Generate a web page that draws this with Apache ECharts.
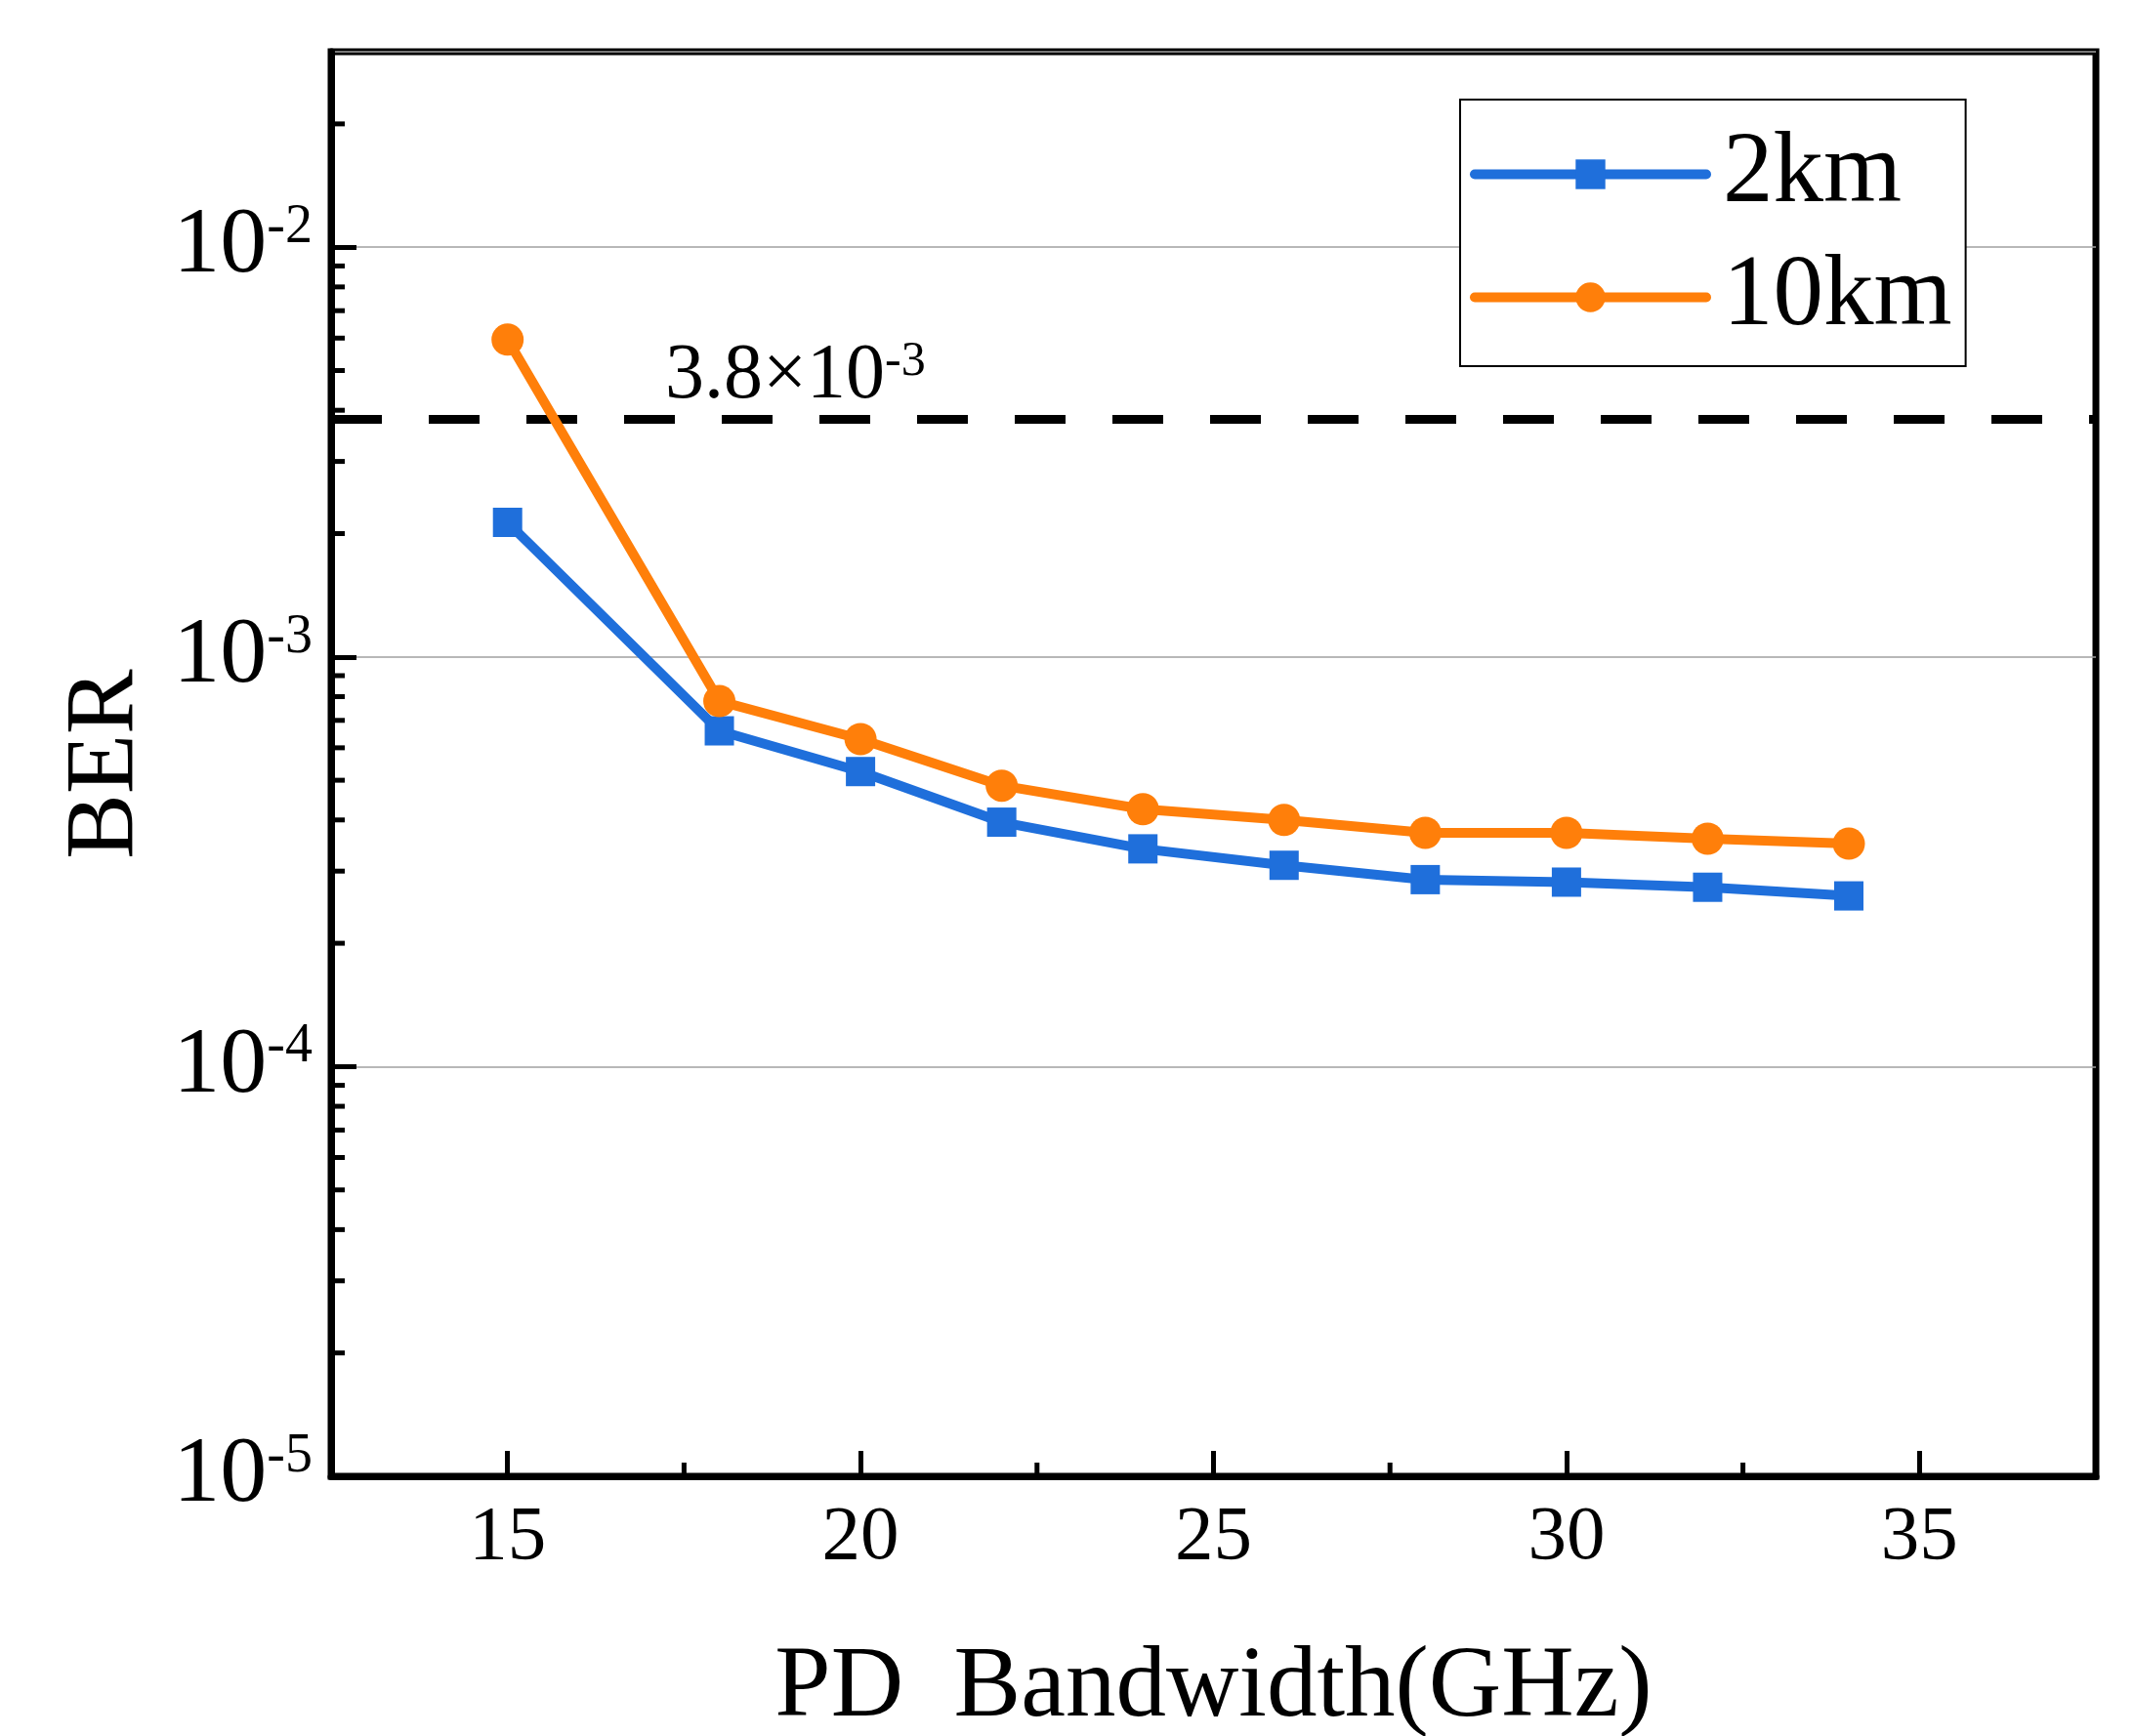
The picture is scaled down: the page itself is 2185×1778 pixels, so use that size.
<!DOCTYPE html>
<html>
<head>
<meta charset="utf-8">
<title>BER vs PD Bandwidth</title>
<script src="https://cdn.jsdelivr.net/npm/echarts@6/dist/echarts.min.js"></script>
<style>
  html, body { margin: 0; padding: 0; background: #fff; }
  #chart { width: 2185px; height: 1778px; }
</style>
</head>
<body>
<div id="chart"></div>
<script>
// data
const bandwidth = [15, 18, 20, 22, 24, 26, 28, 30, 32, 34]
const ber2km = [2.13e-3, 6.6e-4, 5.25e-4, 3.95e-4, 3.4e-4, 3.1e-4, 2.86e-4, 2.82e-4, 2.74e-4, 2.61e-4]
const ber10km = [5.95e-3, 7.8e-4, 6.3e-4, 4.85e-4, 4.25e-4, 4.0e-4, 3.72e-4, 3.72e-4, 3.6e-4, 3.5e-4]
const fecLimit = 3.8e-3
const xMinorTicks = [17.5, 22.5, 27.5, 32.5]
const yMinorTicks = [
  2e-5, 3e-5, 4e-5, 5e-5, 6e-5, 7e-5, 8e-5, 9e-5,
  2e-4, 3e-4, 4e-4, 5e-4, 6e-4, 7e-4, 8e-4, 9e-4,
  2e-3, 3e-3, 4e-3, 5e-3, 6e-3, 7e-3, 8e-3, 9e-3,
  2e-2
]

const X_MIN = 12.5
const X_MAX = 37.5
const Y_MIN = 1e-5
const Y_MAX = 3e-2
const FONT = 'Liberation Serif'
const BLUE = '#1f6fdb'
const ORANGE = '#ff7f0a'

const chart = echarts.init(document.getElementById('chart'))

const tickRich = {
  b: { fontSize: 96, fontFamily: FONT, color: '#000', lineHeight: 96 },
  s: { fontSize: 56, fontFamily: FONT, color: '#000', verticalAlign: 'top', lineHeight: 56 }
}
const fecRich = {
  b: { fontSize: 80, fontFamily: FONT, fill: '#000', lineHeight: 80 },
  s: { fontSize: 50, fontFamily: FONT, fill: '#000', verticalAlign: 'top', lineHeight: 50 }
}

const option = {
  backgroundColor: '#fff',
  animation: false,
  grid: {
    left: 339,
    right: 39,
    top: 53,
    bottom: 266,
    outerBoundsMode: 'none',
    containLabel: false,
    show: true,
    borderColor: '#000',
    borderWidth: 7
  },
  legend: {
    orient: 'vertical',
    left: 1495,
    top: 102,
    data: ['2km', '10km'],
    itemWidth: 237,
    itemHeight: 38,
    itemGap: 23,
    padding: [25, 14, 19, 10],
    backgroundColor: '#fff',
    borderColor: '#000',
    borderWidth: 2,
    lineStyle: { width: 10, cap: 'round' },
    textStyle: {
      fontFamily: FONT,
      fontSize: 103,
      lineHeight: 100,
      color: '#000',
      padding: [0, 0, 0, 12]
    }
  },
  xAxis: {
    type: 'value',
    min: X_MIN,
    max: X_MAX,
    splitNumber: 5,
    name: 'PD  Bandwidth(GHz)',
    nameLocation: 'middle',
    nameGap: 166,
    nameTextStyle: { fontFamily: FONT, fontSize: 103, color: '#000' },
    axisLine: { lineStyle: { color: '#000', width: 7 } },
    axisTick: { inside: true, length: 26, lineStyle: { color: '#000', width: 5 } },
    splitLine: { show: false },
    axisLabel: {
      showMinLabel: false,
      showMaxLabel: false,
      margin: 24,
      fontFamily: FONT,
      fontSize: 79,
      color: '#000'
    }
  },
  yAxis: {
    type: 'log',
    logBase: 10,
    min: Y_MIN,
    max: Y_MAX,
    name: 'BER',
    nameLocation: 'middle',
    nameGap: 180,
    nameTextStyle: { fontFamily: FONT, fontSize: 100, color: '#000' },
    axisLine: { lineStyle: { color: '#000', width: 7 } },
    axisTick: { inside: true, length: 26, lineStyle: { color: '#000', width: 5 } },
    splitLine: { show: true, lineStyle: { color: '#a0a0a0', width: 1.5 } },
    axisLabel: {
      showMaxLabel: false,
      margin: 19,
      formatter: function (v) {
        const e = Math.round(Math.log10(v))
        return '{b|10}{s|' + e + '}'
      },
      rich: tickRich
    }
  },
  series: [
    {
      // FEC threshold, dashed
      name: 'FEC',
      type: 'line',
      data: [[X_MIN, fecLimit], [X_MAX, fecLimit]],
      symbol: 'none',
      silent: true,
      lineStyle: { type: [52, 48], width: 9, color: '#000' },
      z: 2
    },
    {
      // FEC threshold label
      type: 'custom',
      silent: true,
      data: [[X_MIN, fecLimit]],
      renderItem: function (params, api) {
        const p = api.coord([api.value(0), api.value(1)])
        return {
          type: 'text',
          x: p[0] + 342,
          y: p[1] - 4,
          style: {
            text: '{b|3.8×10}{s|-3}',
            rich: fecRich,
            align: 'left',
            verticalAlign: 'bottom'
          }
        }
      },
      z: 2
    },
    {
      name: '2km',
      type: 'line',
      data: bandwidth.map((x, i) => [x, ber2km[i]]),
      symbol: 'rect',
      symbolSize: 30,
      color: BLUE,
      lineStyle: { width: 10, color: BLUE },
      itemStyle: { color: BLUE },
      z: 3
    },
    {
      name: '10km',
      type: 'line',
      data: bandwidth.map((x, i) => [x, ber10km[i]]),
      symbol: 'circle',
      symbolSize: 33,
      color: ORANGE,
      lineStyle: { width: 10, color: ORANGE },
      itemStyle: { color: ORANGE },
      z: 4
    },
    {
      // y minor ticks (log positions)
      type: 'custom',
      silent: true,
      data: yMinorTicks.map(v => [X_MIN, v]),
      renderItem: function (params, api) {
        const p = api.coord([api.value(0), api.value(1)])
        return {
          type: 'line',
          shape: { x1: p[0], y1: p[1], x2: p[0] + 14, y2: p[1] },
          style: { stroke: '#000', lineWidth: 5 }
        }
      },
      z: 5
    },
    {
      // x minor ticks
      type: 'custom',
      silent: true,
      data: xMinorTicks.map(v => [v, Y_MIN]),
      renderItem: function (params, api) {
        const p = api.coord([api.value(0), api.value(1)])
        return {
          type: 'line',
          shape: { x1: p[0], y1: p[1], x2: p[0], y2: p[1] - 14 },
          style: { stroke: '#000', lineWidth: 5 }
        }
      },
      z: 5
    }
  ]
}

chart.setOption(option)
</script>
</body>
</html>
